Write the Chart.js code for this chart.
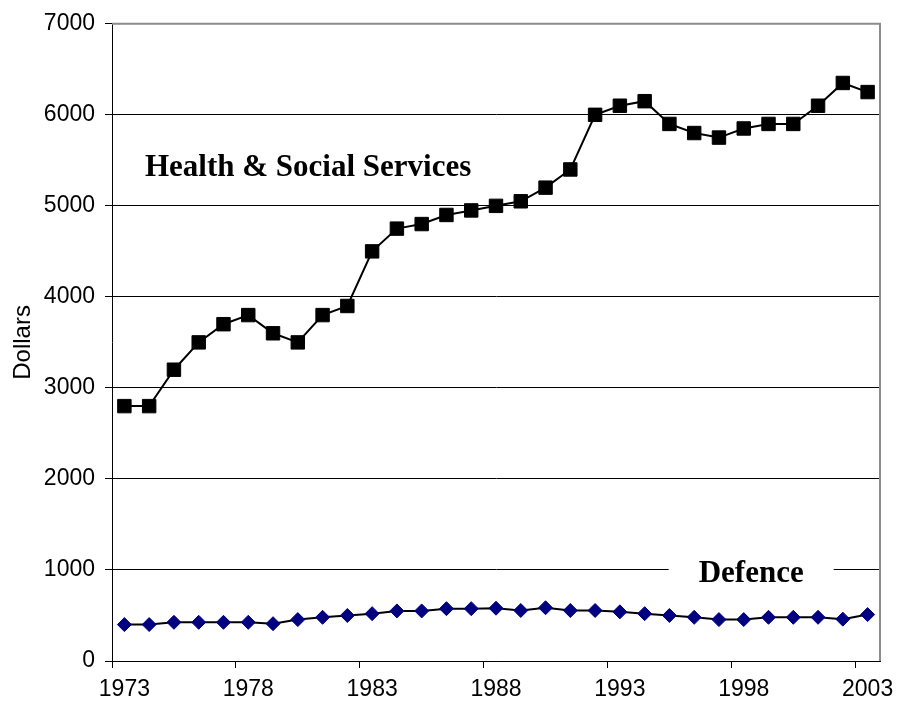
<!DOCTYPE html>
<html>
<head>
<meta charset="utf-8">
<title>Spending per person</title>
<script src="https://cdn.jsdelivr.net/npm/chart.js@4.4.1/dist/chart.umd.min.js"></script>
<style>
  html, body { margin: 0; padding: 0; background: #fff; }
  #wrap { width: 897px; height: 711px; }
</style>
</head>
<body>
<div id="wrap"><canvas id="spendChart" width="897" height="711"></canvas></div>
<script>
// yearly spending, dollars
var years = ['1973','1974','1975','1976','1977','1978','1979','1980','1981','1982',
             '1983','1984','1985','1986','1987','1988','1989','1990','1991','1992',
             '1993','1994','1995','1996','1997','1998','1999','2000','2001','2002','2003'];
var healthSpending = [2800,2800,3200,3500,3700,3800,3600,3500,3800,3900,
                      4500,4750,4800,4900,4950,5000,5050,5200,5400,6000,
                      6100,6150,5900,5800,5750,5850,5900,5900,6100,6350,6250];
var defenceSpending = [400,400,425,425,425,425,410,455,480,500,
                       520,550,550,575,575,580,555,585,555,555,
                       540,520,500,480,455,455,480,480,480,460,510];
var tickYears = ['1973','1978','1983','1988','1993','1998','2003'];
var yTicks = [0,1000,2000,3000,4000,5000,6000,7000];

var sansFont = '"Liberation Sans", Arial, sans-serif';
var serifFont = '"Liberation Serif", "Times New Roman", serif';

// gray frame on top / right of the plot area, like the old spreadsheet charts
var plotFrame = {
  id: 'plotFrame',
  beforeDatasetsDraw: function(chart) {
    var a = chart.chartArea, c = chart.ctx;
    c.save();
    c.strokeStyle = '#8c8c8c';
    c.lineWidth = 2;
    c.beginPath();
    c.moveTo(a.left, a.top);
    c.lineTo(a.right, a.top);
    c.lineTo(a.right, a.bottom);
    c.stroke();
    c.restore();
  }
};

// series names written inside the plot
var seriesLabels = {
  id: 'seriesLabels',
  beforeDatasetsDraw: function(chart) {
    var c = chart.ctx, xs = chart.scales.x, ys = chart.scales.y;
    c.save();
    c.font = 'bold 31px ' + serifFont;
    c.fillStyle = '#000';
    c.textBaseline = 'alphabetic';

    c.textAlign = 'left';
    c.fillText('Health & Social Services', xs.getPixelForValue(0.83), ys.getPixelForValue(5330));

    var dx = xs.getPixelForValue(25.3), dy = ys.getPixelForValue(863);
    var w = c.measureText('Defence').width;
    c.fillStyle = '#fff';
    c.fillRect(dx - w / 2 - 30, dy - 28, w + 60, 36);
    c.fillStyle = '#000';
    c.textAlign = 'center';
    c.fillText('Defence', dx, dy);
    c.restore();
  }
};

new Chart(document.getElementById('spendChart'), {
  type: 'line',
  data: {
    labels: years,
    datasets: [{
      label: 'Health & Social Services',
      data: healthSpending,
      borderColor: '#000',
      borderWidth: 2,
      tension: 0,
      pointStyle: 'rect',
      pointRadius: 9.5,
      pointBackgroundColor: '#000',
      pointBorderColor: '#000',
      pointBorderWidth: 1
    }, {
      label: 'Defence',
      data: defenceSpending,
      borderColor: '#000',
      borderWidth: 2,
      tension: 0,
      pointStyle: 'rectRot',
      pointRadius: 7,
      pointBackgroundColor: '#000080',
      pointBorderColor: '#000080',
      pointBorderWidth: 1
    }]
  },
  options: {
    responsive: false,
    animation: false,
    devicePixelRatio: 1,
    layout: { padding: { top: 20, right: 17, bottom: 0, left: 0 } },
    plugins: {
      legend: { display: false },
      tooltip: { enabled: false }
    },
    scales: {
      x: {
        type: 'category',
        offset: true,
        afterFit: function(s) {
          s.height = 50;
          // the last year label may hang past the plot edge
          s.paddingLeft = 0;
          s.paddingRight = 0;
        },
        border: { color: '#000', width: 1 },
        grid: {
          offset: true,
          drawOnChartArea: false,
          drawTicks: true,
          tickLength: 7,
          tickWidth: 1,
          tickColor: function(ctx) { return ctx.index % 5 === 0 ? '#000' : 'rgba(0,0,0,0)'; }
        },
        ticks: {
          autoSkip: false,
          maxRotation: 0,
          padding: 8,
          color: '#000',
          font: { family: sansFont, size: 23 },
          callback: function(v, i) {
            return tickYears.indexOf(years[i]) >= 0 ? years[i] : '';
          }
        }
      },
      y: {
        min: 0,
        max: 7000,
        afterFit: function(s) { s.width = 112; },
        afterBuildTicks: function(s) {
          s.ticks = yTicks.map(function(v) { return { value: v }; });
        },
        border: { color: '#000', width: 1 },
        grid: {
          color: function(ctx) { return ctx.tick && ctx.tick.value === 7000 ? 'rgba(0,0,0,0)' : '#000'; },
          lineWidth: 1,
          tickLength: 7,
          tickColor: '#000'
        },
        ticks: {
          padding: 10,
          color: '#000',
          font: { family: sansFont, size: 23 },
          callback: function(v) { return String(v); }
        },
        title: {
          display: true,
          text: 'Dollars',
          color: '#000',
          font: { family: sansFont, size: 24 },
          padding: { top: 9, bottom: 0 }
        }
      }
    }
  },
  plugins: [plotFrame, seriesLabels]
});
</script>
</body>
</html>
